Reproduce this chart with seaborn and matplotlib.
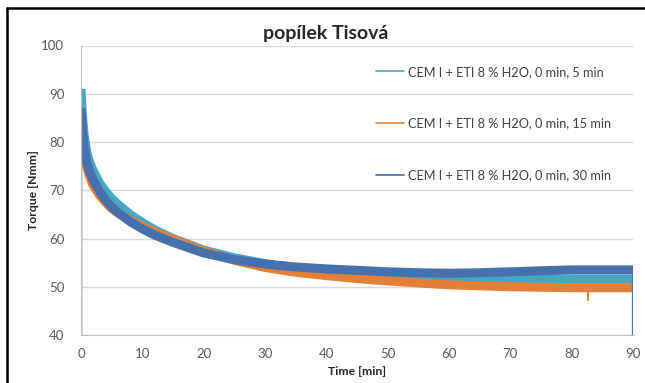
import pandas as pd
import matplotlib.pyplot as plt
import seaborn as sns
from matplotlib.lines import Line2D

# Datos (valores medios de cada curva)
time_min = [0, 0.2, 0.5, 1, 1.5, 2, 3, 4, 5, 6, 8, 10, 12, 15, 20, 25, 30, 35,
            40, 45, 50, 55, 60, 65, 70, 75, 80, 85, 90]
torque_5min = [91, 86, 81.5, 77.5, 75.5, 74, 71.5, 69.8, 68.3, 67.1, 65, 63.3, 61.8, 60,
               57.6, 56, 54.8, 53.9, 53.2, 52.7, 52.3, 52, 51.8, 51.7, 51.6, 51.6, 51.6,
               51.6, 51.6]
torque_15min = [87, 82, 78, 74.5, 72.5, 71, 69, 67.5, 66.2, 65.3, 63.8, 62.5, 61.3, 59.8,
                57.4, 55.5, 54, 53, 52.3, 51.7, 51.2, 50.8, 50.4, 50.2, 50, 49.9, 49.8,
                49.8, 49.8]
torque_30min = [87, 83, 79, 75.5, 73.5, 72, 69.8, 68, 66.5, 65.4, 63.5, 62, 60.7, 59.2,
                57, 55.6, 54.7, 54.1, 53.7, 53.4, 53.1, 52.9, 52.8, 52.9, 53.1, 53.3, 53.5,
                53.5, 53.5]
labels = ["CEM I + ETI 8 % H2O, 0 min, 5 min",
          "CEM I + ETI 8 % H2O, 0 min, 15 min",
          "CEM I + ETI 8 % H2O, 0 min, 30 min"]
colors = ["#45A7C2", "#E47F35", "#4670AE"]
# pico del naranja cerca del minuto 83
spike_time = 82.7
spike_value = 47.3

df = pd.concat([
    pd.DataFrame({"Time": time_min, "Torque": torque_5min, "serie": labels[0]}),
    pd.DataFrame({"Time": time_min, "Torque": torque_15min, "serie": labels[1]}),
    pd.DataFrame({"Time": time_min, "Torque": torque_30min, "serie": labels[2]}),
])

sns.set_style("white")
plt.rcParams['font.family'] = ['Lato', 'DejaVu Sans']

fig = plt.figure(figsize=(6.45, 3.83), dpi=100)
ax = fig.add_axes([81 / 645, 1 - 335 / 383, 552 / 645, 289.5 / 383])

sns.lineplot(data=df, x="Time", y="Torque", hue="serie", palette=colors,
             linewidth=6.5, ax=ax, legend=False, sort=False,
             solid_joinstyle="round", solid_capstyle="butt")

# lineas verticales al inicio y al final, y el pico
ymin = 40
series = [torque_5min, torque_15min, torque_30min]
for s, c in zip(series, colors):
    ax.plot([time_min[0], time_min[0]], [ymin, s[0]], color=c, linewidth=1.6)
ax.plot([time_min[-1], time_min[-1]], [ymin, torque_30min[-1]], color=colors[2], linewidth=1.6)
ax.plot([spike_time, spike_time], [spike_value, torque_15min[-3]], color=colors[1], linewidth=1.4)

ax.set_xlim(0, 90)
ax.set_ylim(40, 100)
ax.set_xticks(range(0, 91, 10))
ax.set_yticks(range(40, 101, 10))
ax.grid(axis="y", color="#D9D9D9", linewidth=1)
ax.grid(axis="x", visible=False)
for side in ["top", "right"]:
    ax.spines[side].set_visible(False)
ax.spines["left"].set_color("#BFBFBF")
ax.spines["bottom"].set_color("#BFBFBF")
ax.tick_params(axis="both", length=0, labelsize=9.5, labelcolor="#595959")
ax.tick_params(axis="y", pad=12)
ax.tick_params(axis="x", pad=9)

ax.set_xlabel("Time [min]", fontsize=8.8, fontweight="bold", labelpad=5)
ax.set_ylabel("Torque [Nmm]", fontsize=8.8, fontweight="bold", labelpad=2)
fig.text(0.505, 1 - 34 / 383, "popílek Tisová", ha="center", va="center",
         fontsize=14, fontweight="bold")

handles = [Line2D([], [], color=c, linewidth=1.2) for c in colors]
ax.legend(handles, labels, loc="upper left", bbox_to_anchor=(0.534, 0.93),
          frameon=False, fontsize=9.2, labelspacing=3.1, handlelength=2.2,
          handletextpad=0.3, borderpad=0, borderaxespad=0, labelcolor="#404040")

# marco de la figura
fig.add_artist(Line2D([7 / 645, 1], [1 - 8 / 383, 1 - 8 / 383], color="black", linewidth=1.8))
fig.add_artist(Line2D([7 / 645, 7 / 645], [0, 1 - 8 / 383], color="black", linewidth=1.8))

plt.savefig("out.png", dpi=100)
